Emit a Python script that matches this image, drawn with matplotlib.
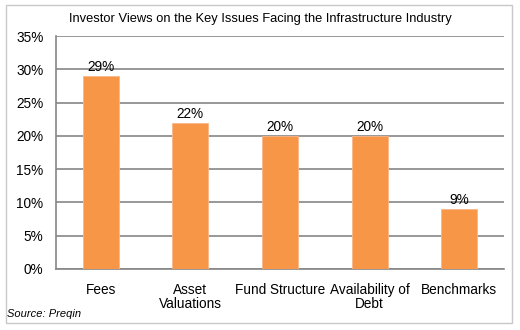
import matplotlib.pyplot as plt
from matplotlib.patches import Rectangle
from matplotlib.ticker import PercentFormatter

plt.rcParams['font.family'] = ['Liberation Sans', 'DejaVu Sans']

categories = ['Fees', 'Asset\nValuations', 'Fund Structure', 'Availability of\nDebt', 'Benchmarks']
shares = [29, 22, 20, 20, 9]

fig = plt.figure(figsize=(5.2, 3.3), dpi=100)
ax = fig.add_axes([56 / 520, 1 - 269 / 330, (504 - 56) / 520, (269 - 36) / 330])

# outer frame around the whole chart
fig.patches.append(Rectangle((6 / 520, 1 - 323 / 330), 506 / 520, 318 / 330,
                             transform=fig.transFigure, fill=False,
                             edgecolor='#c8c8c8', linewidth=1))

x = range(len(categories))
bars = ax.bar(x, shares, width=0.4, color='#F79646', edgecolor='#FAB68A',
              linewidth=0.6, zorder=3)
for b, v in zip(bars, shares):
    ax.text(b.get_x() + b.get_width() / 2, v + 0.3, f'{v}%', ha='center',
            va='bottom', fontsize=9.8, color='black', zorder=4)

ax.set_xlim(-0.5, len(categories) - 0.5)
ax.set_ylim(0, 35)
ax.set_yticks(range(0, 36, 5))
ax.yaxis.set_major_formatter(PercentFormatter(decimals=0))
ax.set_xticks(list(x))
ax.set_xticklabels(categories, fontsize=9.8, linespacing=1.0)
ax.tick_params(axis='y', labelsize=9.8, length=0, pad=9)
ax.tick_params(axis='x', length=0, pad=10)
ax.grid(axis='y', color='#868686', linewidth=1.2, zorder=0)
for side in ['top', 'right']:
    ax.spines[side].set_visible(False)
for side in ['left', 'bottom']:
    ax.spines[side].set_color('#868686')
    ax.spines[side].set_linewidth(1.2)

fig.text(0.5, 1 - 19 / 330, 'Investor Views on the Key Issues Facing the Infrastructure Industry',
         ha='center', va='center', fontsize=9.3)
fig.text(7 / 520, 1 - 314 / 330, 'Source: Preqin', ha='left', va='center',
         fontsize=8, style='italic')

fig.savefig('out.png', dpi=100)
